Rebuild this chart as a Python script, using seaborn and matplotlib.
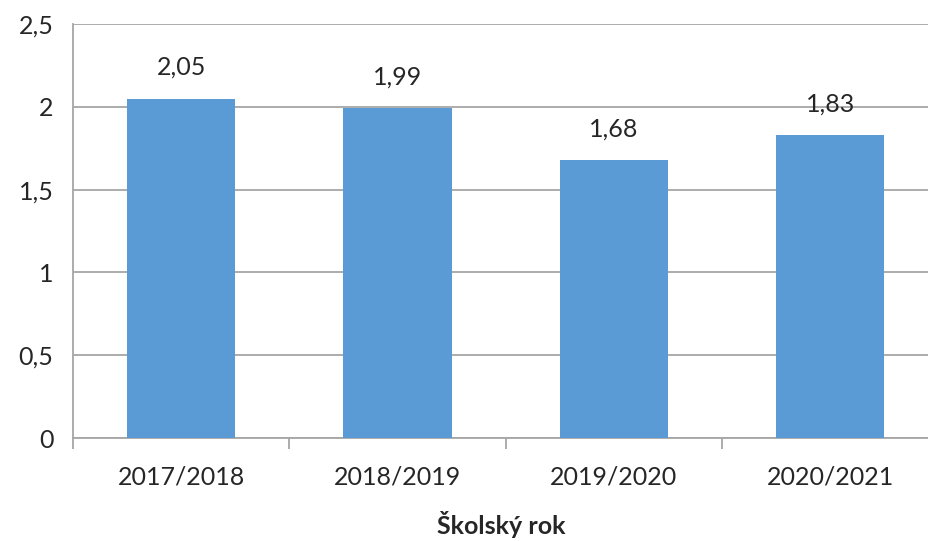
import numpy as np
import pandas as pd
import seaborn as sns
import matplotlib.pyplot as plt
from matplotlib.ticker import FixedLocator, FuncFormatter

# chart data
years = ['2017/2018', '2018/2019', '2019/2020', '2020/2021']
values = [2.05, 1.99, 1.68, 1.83]
y_ticks = [0, 0.5, 1, 1.5, 2, 2.5]

df = pd.DataFrame({'rok': years, 'hodnota': values})

sns.set_theme(style='white', rc={
    'axes.edgecolor': '#a6a6a6',
    'axes.linewidth': 1.3,
    'text.color': '#262626',
    'xtick.color': '#a6a6a6',
    'ytick.color': '#a6a6a6',
    'xtick.labelcolor': '#262626',
    'ytick.labelcolor': '#262626',
})
plt.rcParams['font.family'] = ['Lato', 'DejaVu Sans']

fig = plt.figure(figsize=(9.29, 5.41), dpi=100)
ax = fig.add_axes([73 / 929, 1 - 438 / 541, 1 - 73 / 929, (438 - 24) / 541])

sns.barplot(data=df, x='rok', y='hodnota', color='#5b9bd5', width=0.5,
            saturation=1, linewidth=0, ax=ax, zorder=3)

ax.set_ylim(0, 2.5)
ax.set_xlim(-0.5, 3.457)
ax.set_yticks(y_ticks)
ax.yaxis.set_major_formatter(FuncFormatter(lambda v, p: f'{v:g}'.replace('.', ',')))
ax.yaxis.grid(True, color='#a6a6a6', linewidth=1.3, zorder=0)
ax.set_axisbelow(True)

# category boundary ticks on the x axis
ax.xaxis.set_minor_locator(FixedLocator([-0.5, 0.5, 1.5, 2.5]))
ax.tick_params(axis='x', which='major', length=0, pad=20, labelsize=18)
ax.tick_params(axis='x', which='minor', length=8, width=1.3, direction='out', bottom=True)
ax.tick_params(axis='y', length=8, width=1.3, direction='out', pad=6, labelsize=18)

for side in ['top', 'right']:
    ax.spines[side].set_visible(False)

for i, v in enumerate(values):
    ax.annotate(f'{v:.2f}'.replace('.', ','), (i, v), xytext=(0, 14),
                textcoords='offset points', ha='center', va='bottom', fontsize=18)

ax.set_ylabel('')
ax.set_xlabel('Školský rok', fontsize=18, fontweight='bold', labelpad=16)

fig.savefig('out.png', dpi=100)
